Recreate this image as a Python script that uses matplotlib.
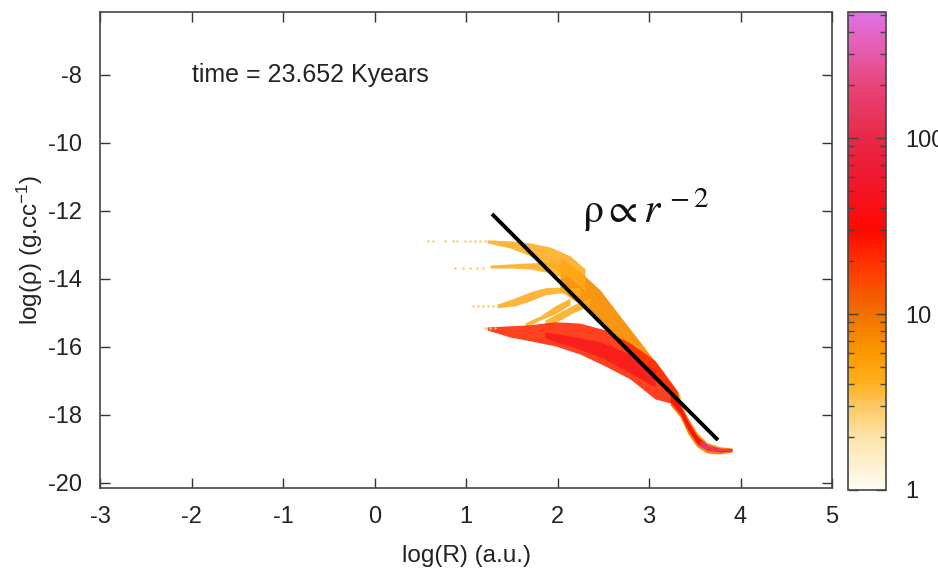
import numpy as np
import matplotlib
matplotlib.use("Agg")
import matplotlib.pyplot as plt
from matplotlib.colors import LinearSegmentedColormap, LogNorm
from matplotlib.cm import ScalarMappable

plt.rcParams['font.family'] = ['Liberation Sans', 'DejaVu Sans']
plt.rcParams['mathtext.fontset'] = 'custom'
plt.rcParams['mathtext.rm'] = 'Liberation Sans'
plt.rcParams['mathtext.it'] = 'Liberation Sans:italic'
plt.rcParams['mathtext.bf'] = 'Liberation Sans:bold'

# ---------------- axes / scale values ----------------
x_ticks = [-3, -2, -1, 0, 1, 2, 3, 4, 5]
y_ticks = [-20, -18, -16, -14, -12, -10, -8]
x_lim = [-3, 5]
y_lim = [-20.15, -6.15]
cb_ticks = [1, 10, 100]
cb_tick_labels = ['1', '10', '100']
cb_min, cb_max = 1, 520

# palette stops (value -> colour)
pal_vals = [1, 2, 3, 4, 6, 10, 20, 30, 60, 100, 200, 350, 520]
pal_cols = ['#fffdf5', '#fde3a8', '#fcc860', '#ffb020', '#fb9800', '#f07000',
            '#ff3000', '#ff0800', '#f01830', '#e82848', '#e84478', '#e460b8',
            '#e070e8']

# ---------------- sparse particles (left tails) ----------------
dots1_x = [0.585, 0.639, 0.770, 0.858, 0.902, 0.989, 1.044, 1.098, 1.153, 1.208]
dots1_y = [-12.88] * 10
dots2_x = [0.880, 0.967, 1.044, 1.120, 1.186]
dots2_y = [-13.68] * 5
dots3_x = [1.077, 1.131, 1.186, 1.240, 1.295]
dots3_y = [-14.79] * 5
dots4_x = [1.208, 1.262, 1.317]
dots4_y = [-15.44] * 3
dots_val = 3

# ---------------- dense branches: x, upper, lower, colour value ----------------
body_x = [2.027, 2.246, 2.464, 2.683, 2.902, 3.120, 3.339]
body_hi = [-13.38, -13.79, -14.32, -15.09, -15.85, -16.62, -17.44]
body_lo = [-14.32, -14.76, -15.35, -15.94, -16.44, -16.97, -17.62]
body_val = 7

top_x = [1.230, 1.481, 1.699, 1.918, 2.137, 2.301]
top_hi = [-12.85, -12.88, -12.94, -13.06, -13.32, -13.70]
top_lo = [-12.94, -13.09, -13.32, -13.62, -13.97, -14.35]
top_val = 4.5

mid_x = [1.262, 1.481, 1.699, 1.918, 2.082]
mid_hi = [-13.59, -13.56, -13.53, -13.50, -13.59]
mid_lo = [-13.68, -13.68, -13.71, -13.82, -13.99]
mid_val = 4.5

low_x = [1.339, 1.536, 1.699, 1.863, 2.027, 2.246]
low_hi = [-14.74, -14.56, -14.38, -14.26, -14.24, -14.26]
low_lo = [-14.85, -14.79, -14.65, -14.47, -14.41, -14.50]
low_val = 4.5

wisp1_x = [1.645, 1.809, 1.973, 2.137]
wisp1_hi = [-15.29, -15.09, -14.79, -14.56]
wisp1_lo = [-15.44, -15.21, -15.03, -14.76]
wisp2_x = [1.863, 2.027, 2.191, 2.355]
wisp2_hi = [-15.21, -14.97, -14.74, -14.56]
wisp2_lo = [-15.38, -15.21, -14.97, -14.79]
wisp_val = 4.5

red_x = [1.230, 1.481, 1.699, 1.973, 2.246, 2.519, 2.792, 3.066, 3.317]
red_hi = [-15.41, -15.38, -15.35, -15.26, -15.30, -15.50, -15.88, -16.40, -17.32]
red_lo = [-15.50, -15.71, -15.82, -15.97, -16.21, -16.56, -16.94, -17.53, -17.71]
red_val = 22

core_x = [1.863, 2.137, 2.464, 2.792, 3.066]
core_hi = [-15.56, -15.68, -15.85, -16.21, -16.68]
core_lo = [-15.74, -15.97, -16.29, -16.76, -17.18]
core_val = 45

tail_x = [3.230, 3.339, 3.426, 3.525, 3.634, 3.776, 3.907]
tailo_hi = [-17.26, -17.62, -18.09, -18.53, -18.82, -18.94, -18.97]
tailo_lo = [-17.71, -18.06, -18.56, -18.94, -19.12, -19.15, -19.09]
tailo_val = 9
tailr_hi = [-17.35, -17.71, -18.18, -18.62, -18.88, -18.99, -19.00]
tailr_lo = [-17.62, -17.97, -18.44, -18.85, -19.03, -19.09, -19.06]
tailr_val = 35

pink_x = [3.557, 3.721, 3.907]
pink_hi = [-18.76, -18.97, -19.00]
pink_lo = [-18.94, -19.07, -19.06]
pink_val = 150

# power-law guide line
guide_x = [1.284, 3.754]
guide_y = [-12.09, -18.74]

time_label = "time = 23.652 Kyears"

# ---------------- figure ----------------
W, H = 938, 576
fig = plt.figure(figsize=(W / 100, H / 100), dpi=100)
ax = fig.add_axes([100 / W, 88 / H, 732 / W, 476 / H])
cax = fig.add_axes([848 / W, 86 / H, 38 / W, 478 / H])

norm = LogNorm(vmin=cb_min, vmax=cb_max)
pos = [np.log10(v) / np.log10(cb_max) for v in pal_vals]
cmap = LinearSegmentedColormap.from_list('pal', list(zip(pos, pal_cols)))

def band(x, hi, lo, v, alpha=0.92):
    ax.fill_between(x, lo, hi, color=cmap(norm(v)), lw=0, alpha=alpha, zorder=2)

band(body_x, body_hi, body_lo, body_val)
band(top_x, top_hi, top_lo, top_val, alpha=0.85)
band(mid_x, mid_hi, mid_lo, mid_val, alpha=0.85)
band(low_x, low_hi, low_lo, low_val, alpha=0.85)
band(wisp1_x, wisp1_hi, wisp1_lo, wisp_val, alpha=0.85)
band(wisp2_x, wisp2_hi, wisp2_lo, wisp_val, alpha=0.85)
band(red_x, red_hi, red_lo, red_val, alpha=0.88)
band(core_x, core_hi, core_lo, core_val, alpha=0.7)
band(tail_x, tailo_hi, tailo_lo, tailo_val)
band(tail_x, tailr_hi, tailr_lo, tailr_val)
band(pink_x, pink_hi, pink_lo, pink_val)

for dx, dy in [(dots1_x, dots1_y), (dots2_x, dots2_y), (dots3_x, dots3_y), (dots4_x, dots4_y)]:
    ax.scatter(dx, dy, s=3, color=cmap(norm(dots_val)), lw=0, zorder=2)

ax.plot(guide_x, guide_y, color='black', lw=2.8, solid_capstyle='butt', zorder=3)

ax.text(-2.0, -8.0, time_label, fontsize=18, va='center', ha='left', color='#222222')
ax.text(2.27, -12.35, r'$\mathrm{\rho} \propto r^{\,-2}$', fontsize=30, math_fontfamily='stix',
        va='baseline', ha='left', color='#111111')

ax.set_xlim(x_lim)
ax.set_ylim(y_lim)
ax.set_xticks(x_ticks)
ax.set_yticks(y_ticks)
ax.set_xticklabels([str(t) for t in x_ticks])
ax.set_yticklabels([str(t) for t in y_ticks])
ax.tick_params(direction='in', length=7, width=1, top=True, right=True,
               labelsize=17, pad=13, colors='#333333', labelcolor='#222222')
for s in ax.spines.values():
    s.set_color('#444444')
    s.set_linewidth(1.2)
ax.set_xlabel('log(R) (a.u.)', fontsize=17.5, labelpad=12, color='#222222')
ax.set_ylabel('log(ρ) (g.cc$^{-1}$)', fontsize=17.5, labelpad=2, color='#222222')

sm = ScalarMappable(norm=norm, cmap=cmap)
cb = fig.colorbar(sm, cax=cax)
cb.set_ticks(cb_ticks)
cb.set_ticklabels(cb_tick_labels)
cax.tick_params(which='both', direction='in', left=True, right=True,
                colors='#444444', labelcolor='#222222')
cax.tick_params(which='major', length=7, width=1, labelsize=17, pad=14)
cax.tick_params(which='minor', length=4, width=1)
cb.outline.set_edgecolor('#444444')
cb.outline.set_linewidth(1.2)

fig.savefig('out.png', dpi=100)
